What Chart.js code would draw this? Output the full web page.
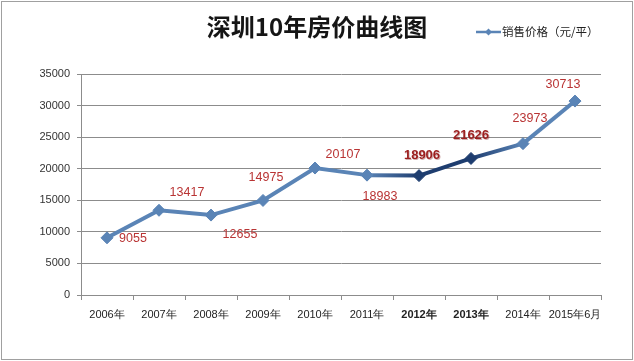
<!DOCTYPE html>
<html>
<head>
<meta charset="utf-8">
<script src="https://cdn.jsdelivr.net/npm/chart.js@4.4.1/dist/chart.umd.min.js"></script>
<style>
html,body{margin:0;padding:0;background:#fff;}
#wrap{width:634px;height:361px;position:relative;}
canvas{display:block;}
</style>
</head>
<body>
<div id="wrap"><canvas id="c" width="634" height="361"></canvas></div>
<script>
const categories = ['2006年','2007年','2008年','2009年','2010年','2011年','2012年','2013年','2014年','2015年6月'];
const prices = [9055, 13417, 12655, 14975, 20107, 18983, 18906, 21626, 23973, 30713];
const seriesName = '销售价格（元/平）';
const chartTitle = '深圳10年房价曲线图';
const highlighted = [6, 7];

// label placement (pixel offsets from each point), layout only
const labelOffsets = [[26,1],[28,-18],[29,19],[3,-23],[28,-13],[13,21],[3,-20],[0,-23],[7,-25],[-12,-17]];

const BLUE = '#5a84b6';
const NAVY = '#1e3d6f';
const GRID = '#8c8c8c';
const LABEL_RED = '#b93434';
const FONT = "'Liberation Sans', Arial, sans-serif";
const CJK = "'Noto Sans CJK SC', sans-serif";

const isHi = i => highlighted.includes(i);

const decor = {
  id: 'decor',
  beforeDraw(chart) {
    const c = chart.ctx;
    c.save();
    c.fillStyle = '#fff';
    c.fillRect(0, 0, chart.width, chart.height);
    c.restore();
  },
  afterDraw(chart) {
    const c = chart.ctx;
    c.save();
    c.strokeStyle = '#a0a0a0';
    c.lineWidth = 1;
    c.strokeRect(1.5, 1.5, chart.width - 3, chart.height - 3);
    c.fillStyle = '#151515';
    c.font = "bold 24px " + CJK;
    c.textAlign = 'center';
    c.textBaseline = 'middle';
    c.fillText(chartTitle, 317, 27);
    c.strokeStyle = BLUE;
    c.lineWidth = 2.5;
    c.beginPath();
    c.moveTo(476, 32); c.lineTo(501, 32);
    c.stroke();
    c.fillStyle = BLUE;
    c.beginPath();
    c.moveTo(488.5, 28.5); c.lineTo(492, 32); c.lineTo(488.5, 35.5); c.lineTo(485, 32);
    c.closePath(); c.fill();
    c.fillStyle = '#222';
    c.font = "11.5px " + CJK;
    c.textAlign = 'left';
    c.fillText(seriesName, 502, 32);
    c.restore();
  },
  afterDatasetsDraw(chart) {
    const c = chart.ctx;
    const meta = chart.getDatasetMeta(0);
    c.save();
    c.textAlign = 'center';
    c.textBaseline = 'middle';
    meta.data.forEach((pt, i) => {
      const [dx, dy] = labelOffsets[i];
      const txt = String(prices[i]);
      if (isHi(i)) {
        c.font = "bold 13px " + FONT;
        c.fillStyle = 'rgba(120,20,20,0.35)';
        c.fillText(txt, pt.x + dx + 0.8, pt.y + dy + 0.8);
        c.fillStyle = '#9c1f1f';
      } else {
        c.font = "12.5px " + FONT;
        c.fillStyle = LABEL_RED;
      }
      c.fillText(txt, pt.x + dx, pt.y + dy);
    });
    c.restore();
  }
};

function segColor(ctx) {
  const a = ctx.p0DataIndex, b = ctx.p1DataIndex;
  const ha = isHi(a), hb = isHi(b);
  if (!ha && !hb) return BLUE;
  if (ha && hb) return NAVY;
  const g = ctx.chart.ctx.createLinearGradient(ctx.p0.x, 0, ctx.p1.x, 0);
  g.addColorStop(0, ha ? NAVY : BLUE);
  g.addColorStop(1, hb ? NAVY : BLUE);
  return g;
}

new Chart(document.getElementById('c'), {
  type: 'line',
  data: {
    labels: categories,
    datasets: [{
      label: seriesName,
      data: prices,
      borderColor: BLUE,
      borderWidth: 4,
      pointStyle: 'rectRot',
      pointRadius: 6,
      pointHoverRadius: 6,
      pointBackgroundColor: prices.map((v, i) => isHi(i) ? NAVY : BLUE),
      pointBorderColor: prices.map((v, i) => isHi(i) ? NAVY : BLUE),
      pointBorderWidth: 1,
      tension: 0,
      segment: { borderColor: segColor }
    }]
  },
  options: {
    responsive: false,
    animation: false,
    events: [],
    layout: { padding: { left: 0, right: 33, top: 74, bottom: 0 } },
    plugins: {
      legend: { display: false },
      title: { display: false },
      tooltip: { enabled: false }
    },
    scales: {
      x: {
        type: 'category',
        offset: true,
        afterFit(s) { s.height = 66; },
        grid: { offset: true, drawOnChartArea: false, drawTicks: true, tickLength: 5, color: GRID },
        border: { color: GRID, width: 1 },
        ticks: {
          padding: 8,
          color: '#222',
          maxRotation: 0,
          autoSkip: false,
          font: ctx => ({ family: FONT, size: 11, weight: (ctx.index === 6 || ctx.index === 7) ? 'bold' : 'normal' })
        }
      },
      y: {
        min: 0,
        max: 35000,
        afterFit(s) { s.width = 81; },
        grid: { color: GRID, tickLength: 4, drawTicks: true },
        border: { color: GRID, width: 1 },
        ticks: {
          stepSize: 5000,
          padding: 7,
          color: '#333',
          font: { family: FONT, size: 11 },
          callback: v => String(v)
        }
      }
    }
  },
  plugins: [decor]
});
</script>
</body>
</html>
